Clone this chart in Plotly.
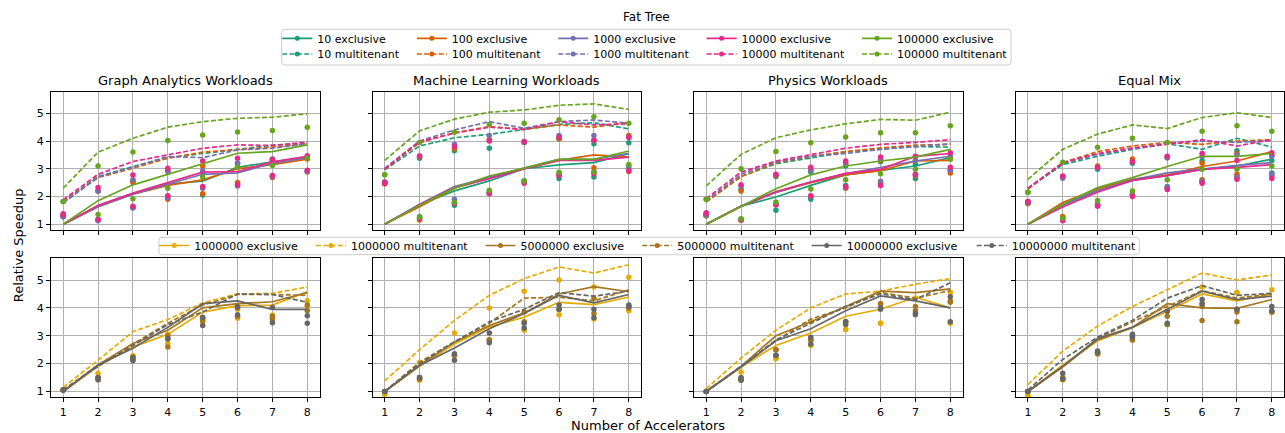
import plotly.graph_objects as go

W, H = 1285, 433
FONT = "DejaVu Sans"

accelerators = [1, 2, 3, 4, 5, 6, 7, 8]
y_ticks = [1, 2, 3, 4, 5]
panel_titles = ["Graph Analytics Workloads", "Machine Learning Workloads",
                "Physics Workloads", "Equal Mix"]
job_sizes = ["10", "100", "1000", "10000", "100000",
             "1000000", "5000000", "10000000"]
size_colors = ["#1b9e77", "#d95f02", "#7570b3", "#e7298a", "#66a61e",
               "#e6ab02", "#a6761d", "#666666"]

# Rows follow job_sizes; each row is the speedup at 1..8 accelerators.
graph_exclusive = [
    [1.0, 1.65, 2.10, 2.45, 2.55, 3.05, 3.25, 3.40],
    [1.0, 1.63, 2.08, 2.40, 2.60, 3.00, 3.15, 3.35],
    [1.0, 1.63, 2.08, 2.45, 2.80, 2.85, 3.20, 3.40],
    [1.0, 1.68, 2.12, 2.50, 2.88, 2.90, 3.25, 3.45],
    [1.0, 1.85, 2.42, 2.80, 3.20, 3.56, 3.62, 3.86],
    [1.0, 1.90, 2.60, 3.05, 3.85, 4.08, 4.10, 4.58],
    [1.0, 1.95, 2.72, 3.20, 4.00, 4.15, 4.22, 4.55],
    [1.0, 1.95, 2.55, 3.30, 4.15, 4.25, 3.95, 3.95],
]
graph_multitenant = [
    [1.82, 2.72, 3.08, 3.40, 3.55, 3.70, 3.85, 3.92],
    [1.80, 2.68, 3.02, 3.38, 3.60, 3.68, 3.78, 3.90],
    [1.76, 2.70, 3.06, 3.44, 3.40, 3.68, 3.74, 3.90],
    [1.88, 2.80, 3.26, 3.50, 3.74, 3.86, 3.84, 3.96],
    [2.30, 3.60, 4.10, 4.50, 4.70, 4.82, 4.86, 4.98],
    [1.15, 2.12, 3.15, 3.58, 4.18, 4.50, 4.52, 4.75],
    [1.05, 1.95, 2.70, 3.45, 4.10, 4.48, 4.48, 4.45],
    [1.05, 1.90, 2.65, 3.40, 3.85, 4.50, 4.48, 4.20],
]
graph_dots_high = [
    [1.30, 2.20, 2.55, 2.95, 2.85, 3.20, 3.35, 3.40],
    [1.30, 2.20, 2.50, 2.90, 3.10, 3.05, 3.28, 3.35],
    [1.27, 2.20, 2.60, 2.92, 2.92, 3.20, 3.30, 3.42],
    [1.38, 2.32, 2.77, 3.02, 3.28, 3.38, 3.33, 3.47],
    [1.82, 3.10, 3.60, 4.02, 4.22, 4.33, 4.38, 4.50],
    [1.05, 1.65, 2.28, 3.05, 3.65, 3.95, 3.74, 4.26],
    [1.05, 1.50, 2.25, 3.00, 3.60, 4.00, 3.70, 4.10],
    [1.05, 1.50, 2.20, 2.90, 3.66, 4.05, 4.02, 3.72],
]
graph_dots_low = [
    [1.28, 1.15, 1.60, 2.00, 2.05, 2.45, 2.75, 2.90],
    [1.30, 1.15, 1.62, 1.90, 2.10, 2.50, 2.68, 2.88],
    [1.27, 1.12, 1.58, 1.95, 2.30, 2.38, 2.72, 2.90],
    [1.33, 1.18, 1.65, 2.03, 2.36, 2.42, 2.76, 2.95],
    [1.82, 1.35, 1.92, 2.30, 2.70, 3.05, 3.12, 3.38],
    [1.05, 1.42, 2.15, 2.72, 3.50, 3.63, 3.62, 4.05],
    [1.05, 1.45, 2.15, 2.60, 3.55, 3.70, 3.60, 3.90],
    [1.05, 1.42, 2.10, 2.88, 3.37, 3.75, 3.47, 3.45],
]

ml_exclusive = [
    [1.0, 1.70, 2.20, 2.56, 3.00, 3.14, 3.22, 3.54],
    [1.0, 1.63, 2.30, 2.68, 3.00, 3.30, 3.50, 3.42],
    [1.0, 1.72, 2.36, 2.70, 3.02, 3.34, 3.34, 3.56],
    [1.0, 1.70, 2.32, 2.64, 3.00, 3.30, 3.30, 3.42],
    [1.0, 1.68, 2.30, 2.74, 3.02, 3.34, 3.34, 3.64],
    [1.0, 1.90, 2.70, 3.32, 3.67, 4.20, 4.12, 4.39],
    [1.0, 1.95, 2.77, 3.37, 3.82, 4.50, 4.76, 4.58],
    [1.0, 1.93, 2.56, 3.25, 3.80, 4.45, 4.18, 4.48],
]
ml_multitenant = [
    [2.96, 3.82, 4.12, 4.24, 4.42, 4.60, 4.66, 4.44],
    [2.98, 3.94, 4.30, 4.52, 4.42, 4.58, 4.50, 4.68],
    [3.02, 4.00, 4.40, 4.70, 4.46, 4.70, 4.76, 4.64],
    [2.98, 3.98, 4.28, 4.50, 4.42, 4.70, 4.58, 4.62],
    [3.30, 4.37, 4.79, 5.04, 5.12, 5.29, 5.34, 5.14],
    [1.38, 2.50, 3.55, 4.45, 5.05, 5.47, 5.25, 5.55],
    [1.00, 2.05, 2.78, 3.45, 4.35, 4.38, 4.25, 4.65],
    [1.00, 2.00, 2.78, 3.50, 3.95, 4.55, 4.42, 4.60],
]
ml_dots_high = [
    [2.50, 3.38, 3.65, 3.74, 3.98, 4.08, 3.90, 3.94],
    [2.46, 3.42, 3.72, 4.05, 3.95, 4.08, 4.03, 4.20],
    [2.52, 3.45, 3.88, 4.20, 3.95, 4.20, 4.20, 4.15],
    [2.50, 3.46, 3.80, 4.00, 3.98, 4.14, 4.03, 4.13],
    [2.78, 3.95, 4.32, 4.60, 4.64, 4.77, 4.88, 4.64],
    [0.90, 2.05, 3.10, 4.00, 4.60, 5.00, 4.75, 5.10],
    [1.00, 1.45, 2.30, 2.85, 3.85, 3.95, 4.35, 4.00],
    [1.00, 1.50, 2.35, 3.10, 3.45, 4.10, 3.95, 4.10],
]
ml_dots_low = [
    [2.50, 1.27, 1.68, 2.14, 2.56, 2.65, 2.70, 3.10],
    [2.46, 1.15, 1.78, 2.12, 2.52, 2.78, 3.04, 2.90],
    [2.52, 1.22, 1.90, 2.14, 2.56, 2.82, 2.88, 3.00],
    [2.48, 1.20, 1.75, 2.10, 2.48, 2.75, 2.82, 2.93],
    [2.78, 1.25, 1.78, 2.22, 2.56, 2.87, 2.88, 3.15],
    [0.90, 1.40, 2.30, 2.85, 3.20, 3.75, 3.60, 3.90],
    [1.00, 1.45, 2.30, 2.85, 3.50, 3.95, 3.80, 4.05],
    [1.00, 1.50, 2.12, 2.75, 3.28, 3.95, 3.65, 4.05],
]

physics_exclusive = [
    [1.0, 1.65, 1.98, 2.40, 2.78, 2.95, 3.10, 3.40],
    [1.0, 1.65, 2.15, 2.50, 2.78, 2.93, 3.28, 3.30],
    [1.0, 1.65, 2.15, 2.52, 2.82, 3.05, 3.28, 3.45],
    [1.0, 1.65, 2.18, 2.52, 2.83, 2.98, 3.45, 3.55],
    [1.0, 1.65, 2.28, 2.78, 3.10, 3.28, 3.42, 3.70],
    [1.0, 1.88, 2.65, 3.10, 3.70, 3.95, 4.38, 4.00],
    [1.0, 1.90, 3.00, 3.50, 4.05, 4.60, 4.55, 4.68],
    [1.0, 1.88, 2.82, 3.25, 3.90, 4.43, 4.25, 4.00],
]
physics_multitenant = [
    [1.82, 2.72, 3.18, 3.40, 3.60, 3.72, 3.80, 3.78],
    [1.80, 2.72, 3.22, 3.44, 3.62, 3.75, 3.85, 3.88],
    [1.85, 2.80, 3.25, 3.45, 3.55, 3.70, 3.80, 3.90],
    [1.92, 2.88, 3.28, 3.52, 3.74, 3.88, 3.95, 4.05],
    [2.38, 3.52, 4.12, 4.40, 4.62, 4.78, 4.75, 5.04],
    [1.10, 2.20, 3.20, 4.00, 4.50, 4.60, 4.85, 5.05],
    [1.00, 1.90, 2.82, 3.60, 4.00, 4.55, 4.35, 4.62],
    [1.00, 1.90, 2.85, 3.45, 4.05, 4.50, 4.30, 4.90],
]
physics_dots_high = [
    [1.30, 2.25, 2.72, 2.88, 3.10, 3.25, 3.15, 3.40],
    [1.32, 2.20, 2.75, 2.95, 3.15, 3.30, 3.30, 3.35],
    [1.35, 2.38, 2.78, 2.95, 3.20, 3.35, 3.30, 3.45],
    [1.40, 2.42, 2.80, 3.05, 3.28, 3.42, 3.45, 3.58],
    [1.90, 3.00, 3.62, 3.94, 4.15, 4.30, 4.30, 4.55],
    [1.00, 1.70, 2.18, 3.50, 3.22, 3.45, 4.35, 4.55],
    [1.00, 1.45, 2.50, 2.85, 3.50, 4.15, 4.05, 4.25],
    [1.00, 1.50, 2.30, 2.95, 3.50, 4.00, 3.80, 4.40],
]
physics_dots_low = [
    [1.30, 1.15, 1.50, 1.90, 2.40, 2.50, 2.65, 2.95],
    [1.32, 1.15, 1.70, 2.00, 2.30, 2.45, 2.75, 2.85],
    [1.35, 1.18, 1.72, 2.00, 2.32, 2.55, 2.78, 2.95],
    [1.40, 1.15, 1.70, 2.03, 2.35, 2.40, 2.80, 3.05],
    [1.90, 1.20, 1.80, 2.27, 2.60, 2.82, 2.98, 3.35],
    [1.00, 1.40, 2.18, 2.65, 3.22, 3.45, 4.35, 3.45],
    [1.00, 1.45, 2.50, 2.85, 3.50, 4.15, 3.90, 4.20],
    [1.00, 1.40, 2.30, 2.70, 3.40, 3.95, 3.75, 3.50],
]

mix_exclusive = [
    [1.0, 1.70, 2.22, 2.58, 2.75, 2.98, 3.10, 3.35],
    [1.0, 1.78, 2.28, 2.62, 2.78, 3.08, 3.28, 3.62],
    [1.0, 1.68, 2.20, 2.60, 2.85, 2.98, 3.12, 3.22],
    [1.0, 1.62, 2.15, 2.58, 2.75, 2.98, 3.05, 3.15],
    [1.0, 1.72, 2.32, 2.68, 3.08, 3.45, 3.45, 3.55],
    [1.0, 1.95, 2.82, 3.30, 3.88, 4.50, 4.25, 4.50],
    [1.0, 1.88, 2.85, 3.30, 4.15, 4.00, 3.98, 4.30],
    [1.0, 1.90, 2.90, 3.30, 3.95, 4.60, 4.30, 4.42],
]
mix_multitenant = [
    [2.28, 3.15, 3.45, 3.70, 3.90, 3.70, 4.10, 3.78],
    [2.27, 3.22, 3.62, 3.82, 3.95, 3.88, 4.00, 4.05],
    [2.30, 3.20, 3.52, 3.72, 3.92, 4.00, 3.95, 4.02],
    [2.30, 3.22, 3.55, 3.75, 3.88, 4.05, 3.82, 4.05],
    [2.62, 3.70, 4.25, 4.58, 4.45, 4.85, 5.02, 4.85],
    [1.25, 2.45, 3.35, 4.05, 4.65, 5.25, 5.00, 5.18],
    [1.00, 1.88, 2.90, 3.50, 4.05, 4.62, 4.35, 4.50],
    [1.05, 2.15, 2.95, 3.55, 4.35, 4.80, 4.45, 4.52],
]
mix_dots_high = [
    [1.78, 2.70, 2.98, 3.20, 3.40, 3.30, 3.65, 3.30],
    [1.75, 2.72, 3.10, 3.35, 3.42, 3.20, 3.55, 3.50],
    [1.78, 2.66, 3.02, 3.25, 3.40, 3.45, 3.50, 3.45],
    [1.82, 2.74, 3.05, 3.25, 3.45, 3.55, 3.30, 3.58],
    [2.15, 3.23, 3.78, 4.10, 3.95, 4.35, 4.55, 4.35],
    [0.85, 1.42, 2.35, 3.00, 3.88, 4.75, 4.55, 4.65],
    [1.00, 1.50, 2.40, 3.00, 3.70, 4.05, 3.85, 3.85],
    [1.00, 1.65, 2.45, 3.05, 3.88, 4.30, 3.95, 4.05],
]
mix_dots_low = [
    [1.78, 1.25, 1.70, 2.05, 2.35, 2.55, 2.70, 2.85],
    [1.75, 1.28, 1.72, 2.10, 2.30, 2.60, 2.80, 2.75],
    [1.78, 1.18, 1.68, 2.05, 2.35, 2.55, 2.70, 2.80],
    [1.82, 1.12, 1.65, 2.00, 2.25, 2.48, 2.62, 2.65],
    [2.15, 1.22, 1.85, 2.20, 2.60, 2.98, 2.98, 3.10],
    [0.85, 1.42, 2.35, 2.85, 3.40, 4.15, 4.55, 3.85],
    [1.00, 1.45, 2.35, 2.85, 3.40, 3.55, 3.50, 3.85],
    [1.00, 1.45, 2.40, 2.95, 3.45, 4.15, 3.95, 3.90],
]

panels = [
    (graph_exclusive, graph_multitenant, graph_dots_high, graph_dots_low),
    (ml_exclusive, ml_multitenant, ml_dots_high, ml_dots_low),
    (physics_exclusive, physics_multitenant, physics_dots_high, physics_dots_low),
    (mix_exclusive, mix_multitenant, mix_dots_high, mix_dots_low),
]

# ---- geometry (pixels, origin top-left) ----
COL_PX = [(51.0, 319.5), (372.5, 641.0), (694.0, 962.5), (1015.7, 1284.0)]
ROW_PX = [(91.7, 230.0), (258.3, 397.3)]
X_RANGE = [0.65, 8.35]
Y_RANGE = [0.79, 5.78]
LINE_W = 1.7
DASH = "5px,2.3px"


def fx(px):
    return px / W


def fy(py):
    return 1 - py / H


def axis_ids(n):
    return ("x" if n == 1 else f"x{n}"), ("y" if n == 1 else f"y{n}")


fig = go.Figure()

axis_common = dict(
    showline=True, mirror=True, linecolor="black", linewidth=1,
    ticks="outside", ticklen=4, tickwidth=1, tickcolor="black",
    showgrid=True, gridcolor="#b0b0b0", gridwidth=0.8, zeroline=False,
    tickfont=dict(family=FONT, size=11, color="black"),
)

layout_axes = {}
for r in range(2):
    for c in range(4):
        n = r * 4 + c + 1
        xid, yid = axis_ids(n)
        xkey = "xaxis" if n == 1 else f"xaxis{n}"
        ykey = "yaxis" if n == 1 else f"yaxis{n}"
        x0, x1 = COL_PX[c]
        y0, y1 = ROW_PX[r]
        layout_axes[xkey] = dict(
            axis_common, domain=[fx(x0), fx(x1)], anchor=yid, range=X_RANGE,
            tickmode="array", tickvals=accelerators,
            ticktext=[str(a) for a in accelerators], showticklabels=(r == 1),
        )
        layout_axes[ykey] = dict(
            axis_common, domain=[fy(y1), fy(y0)], anchor=xid, range=Y_RANGE,
            tickmode="array", tickvals=y_ticks,
            ticktext=[str(t) for t in y_ticks], showticklabels=(c == 0),
        )

# ---- data traces ----
for c, (excl, multi, hi, lo) in enumerate(panels):
    for k, size in enumerate(job_sizes):
        r = 0 if k < 5 else 1
        xid, yid = axis_ids(r * 4 + c + 1)
        color = size_colors[k]
        fig.add_trace(go.Scatter(
            x=accelerators + accelerators, y=hi[k] + lo[k], mode="markers",
            marker=dict(color=color, size=5.5, line=dict(width=0)),
            xaxis=xid, yaxis=yid, showlegend=False, hoverinfo="skip"))
        fig.add_trace(go.Scatter(
            x=accelerators, y=excl[k], mode="lines",
            line=dict(color=color, width=LINE_W),
            xaxis=xid, yaxis=yid, showlegend=False,
            name=f"{size} exclusive"))
        fig.add_trace(go.Scatter(
            x=accelerators, y=multi[k], mode="lines",
            line=dict(color=color, width=LINE_W, dash=DASH),
            xaxis=xid, yaxis=yid, showlegend=False,
            name=f"{size} multitenant"))

# ---- legends: one single-entry legend per slot ----
TOP_TEXT_X = [317.3, 451.8, 593.2, 741.6, 897.0]
TOP_ROW_Y = [38.3, 54.0]
BOTTOM_TEXT_X = [194.3, 351.0, 520.5, 677.2, 846.7, 1011.7]
BOTTOM_ROW_Y = 245.5
TEXT_GAP = 40

slots = []
for k in range(5):
    slots.append((k, "exclusive", TOP_TEXT_X[k], TOP_ROW_Y[0]))
    slots.append((k, "multitenant", TOP_TEXT_X[k], TOP_ROW_Y[1]))
for j, k in enumerate(range(5, 8)):
    slots.append((k, "exclusive", BOTTOM_TEXT_X[2 * j], BOTTOM_ROW_Y))
    slots.append((k, "multitenant", BOTTOM_TEXT_X[2 * j + 1], BOTTOM_ROW_Y))

legend_layout = {}
for i, (k, mode, tx, ty) in enumerate(slots):
    lid = "legend" if i == 0 else f"legend{i + 1}"
    legend_layout[lid] = dict(
        x=fx(tx - TEXT_GAP), xanchor="left", y=fy(ty), yanchor="middle",
        bgcolor="rgba(0,0,0,0)", borderwidth=0, itemwidth=30,
        font=dict(family=FONT, size=11, color="black"),
    )
    line = dict(color=size_colors[k], width=LINE_W)
    if mode == "multitenant":
        line["dash"] = DASH
    fig.add_trace(go.Scatter(
        x=[None], y=[None], mode="lines+markers", line=line,
        marker=dict(color=size_colors[k], size=5),
        name=f"{job_sizes[k]} {mode}", legend=lid, showlegend=True,
        hoverinfo="skip"))


def rounded_box(x0, y0, x1, y1, r=3.0):
    p = (f"M {fx(x0 + r)},{fy(y0)} L {fx(x1 - r)},{fy(y0)} "
         f"Q {fx(x1)},{fy(y0)} {fx(x1)},{fy(y0 + r)} "
         f"L {fx(x1)},{fy(y1 - r)} Q {fx(x1)},{fy(y1)} {fx(x1 - r)},{fy(y1)} "
         f"L {fx(x0 + r)},{fy(y1)} Q {fx(x0)},{fy(y1)} {fx(x0)},{fy(y1 - r)} "
         f"L {fx(x0)},{fy(y0 + r)} Q {fx(x0)},{fy(y0)} {fx(x0 + r)},{fy(y0)} Z")
    return dict(type="path", xref="paper", yref="paper", path=p,
                line=dict(color="#cccccc", width=1),
                fillcolor="rgba(255,255,255,0.8)", layer="above")


shapes = [rounded_box(281.7, 29.3, 1011.0, 65.0),
          rounded_box(159.0, 237.3, 1139.3, 254.7)]

annotations = [dict(text="Fat Tree", x=fx(646.5), y=fy(17.0), xref="paper",
                    yref="paper", showarrow=False, xanchor="center",
                    yanchor="middle", font=dict(family=FONT, size=12, color="black"))]
for c, title in enumerate(panel_titles):
    x0, x1 = COL_PX[c]
    annotations.append(dict(
        text=title, x=fx((x0 + x1) / 2), y=fy(80.7), xref="paper", yref="paper",
        showarrow=False, xanchor="center", yanchor="middle",
        font=dict(family=FONT, size=13, color="black")))
annotations.append(dict(
    text="Relative Speedup", x=fx(18.3), y=fy(245.0), xref="paper", yref="paper",
    showarrow=False, textangle=-90, xanchor="center", yanchor="middle",
    font=dict(family=FONT, size=13, color="black")))
annotations.append(dict(
    text="Number of Accelerators", x=fx(648.0), y=fy(425.0), xref="paper",
    yref="paper", showarrow=False, xanchor="center", yanchor="middle",
    font=dict(family=FONT, size=13, color="black")))

fig.update_layout(
    width=W, height=H, margin=dict(l=0, r=0, t=0, b=0),
    plot_bgcolor="white", paper_bgcolor="white",
    font=dict(family=FONT, size=11, color="black"),
    shapes=shapes, annotations=annotations, hovermode=False,
    **layout_axes, **legend_layout,
)

fig.write_html("out.html")
